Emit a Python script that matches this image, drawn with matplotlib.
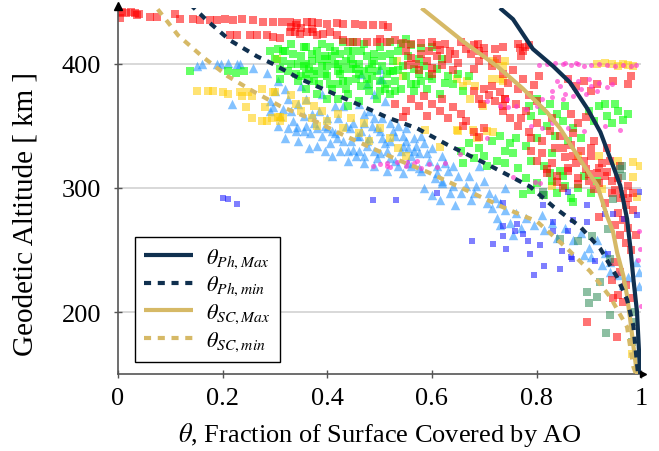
import numpy as np
import matplotlib
matplotlib.use("Agg")
import matplotlib.pyplot as plt
from matplotlib.ticker import FuncFormatter

plt.rcParams["font.family"] = ["Liberation Serif", "DejaVu Serif"]
plt.rcParams["mathtext.fontset"] = "stix"

# ---- model curves (theta vs altitude) ----
ph_max_x = [0.730, 0.755, 0.793, 0.832, 0.864, 0.897, 0.922, 0.946, 0.960, 0.973, 0.979, 0.985, 0.992, 0.998]
ph_max_y = [445, 436, 412, 398, 385, 364, 345, 318, 302, 275, 253, 227, 200, 150]

ph_min_x = [0.138, 0.170, 0.214, 0.266, 0.296, 0.348, 0.380, 0.488, 0.514, 0.572, 0.629, 0.711,
            0.788, 0.832, 0.883, 0.922, 0.954, 0.973, 0.985, 0.994]
ph_min_y = [448, 435, 419, 406, 400, 388, 382, 362, 357, 348, 335, 318, 301, 285, 269, 251, 228, 210, 189, 150]

sc_max_x = [0.580, 0.660, 0.725, 0.774, 0.820, 0.845, 0.883, 0.916, 0.935, 0.946, 0.954, 0.966,
            0.973, 0.979, 0.985, 0.992]
sc_max_y = [445, 418, 398, 380, 361, 348, 323, 302, 277, 265, 248, 229, 213, 194, 173, 150]

sc_min_x = [0.076, 0.115, 0.161, 0.210, 0.258, 0.310, 0.367, 0.424, 0.476, 0.533, 0.591, 0.667,
            0.744, 0.801, 0.859, 0.902, 0.941, 0.973, 0.985, 0.990]
sc_min_y = [444, 423, 406, 390, 378, 366, 356, 344, 334, 323, 313, 298, 283, 273, 251, 233, 212, 188, 156, 150]

# ---- measured coverage, grouped by data set ----
red_pts = [
    (0.000, 441), (0.008, 442), (0.016, 441), (0.024, 442), (0.032, 441), (0.040, 440), (0.004, 437), (0.036, 439),
    (0.061, 438), (0.075, 438), (0.109, 440), (0.119, 436), (0.143, 436), (0.157, 435), (0.176, 435), (0.189, 435),
    (0.205, 436), (0.220, 435), (0.237, 436), (0.258, 435), (0.277, 434), (0.296, 434), (0.314, 434), (0.329, 434),
    (0.342, 433), (0.361, 434), (0.371, 434), (0.382, 433), (0.400, 432), (0.419, 433), (0.430, 432), (0.453, 432),
    (0.468, 431), (0.488, 431), (0.507, 431), (0.516, 430),
    (0.214, 423), (0.228, 423), (0.252, 423), (0.266, 423), (0.285, 423), (0.296, 422), (0.310, 421), (0.329, 426),
    (0.338, 426), (0.348, 424), (0.361, 426), (0.373, 426), (0.380, 423), (0.392, 424), (0.405, 426), (0.419, 423),
    (0.430, 419), (0.444, 418), (0.457, 418), (0.476, 418), (0.495, 418), (0.514, 418), (0.330, 430), (0.350, 429),
    (0.370, 428), (0.340, 431),
    (0.500, 420), (0.530, 419), (0.545, 417), (0.560, 416), (0.580, 417), (0.600, 418), (0.610, 415), (0.625, 416),
    (0.655, 418), (0.665, 412), (0.680, 415), (0.688, 416), (0.690, 410), (0.700, 413), (0.720, 412), (0.735, 414),
    (0.765, 416), (0.769, 413), (0.778, 414), (0.775, 410), (0.785, 415), (0.770, 406),
    (0.550, 410), (0.560, 405), (0.570, 400), (0.580, 408), (0.590, 402), (0.600, 397), (0.610, 406), (0.620, 399),
    (0.630, 404), (0.640, 395), (0.650, 401), (0.575, 395), (0.595, 410), (0.615, 411), (0.555, 399), (0.635, 410),
    (0.600, 392), (0.645, 408),
    (0.675, 408), (0.690, 402), (0.700, 407), (0.715, 398), (0.725, 404), (0.680, 396),
    (0.680, 378), (0.690, 372), (0.700, 380), (0.710, 375), (0.720, 370), (0.730, 377), (0.740, 372), (0.695, 368),
    (0.715, 382), (0.735, 366),
    (0.530, 368), (0.550, 362), (0.560, 372), (0.575, 366), (0.590, 358), (0.600, 368), (0.615, 362), (0.630, 356),
    (0.640, 365), (0.655, 360), (0.665, 354), (0.545, 357), (0.620, 372), (0.585, 374),
    (0.660, 350), (0.680, 345), (0.700, 348), (0.690, 341),
    (0.735, 392), (0.745, 385), (0.755, 395), (0.765, 380), (0.775, 388), (0.785, 375), (0.795, 383), (0.800, 370),
    (0.740, 372), (0.760, 368), (0.780, 362), (0.805, 390),
    (0.860, 388), (0.875, 382), (0.890, 386), (0.905, 378), (0.915, 384), (0.980, 390), (0.975, 384), (0.947, 386),
    (0.735, 362), (0.750, 356), (0.765, 350), (0.865, 360), (0.880, 352), (0.895, 357),
    (0.785, 345), (0.800, 352), (0.810, 338), (0.825, 346), (0.835, 332), (0.845, 342), (0.855, 325), (0.865, 335),
    (0.875, 320), (0.885, 330), (0.895, 315), (0.905, 326), (0.915, 312), (0.925, 320), (0.800, 322), (0.820, 315),
    (0.840, 310), (0.860, 316), (0.880, 308), (0.900, 306), (0.790, 330), (0.830, 356), (0.870, 344), (0.910, 338),
    (0.935, 332), (0.930, 310),
    (0.820, 312), (0.840, 305), (0.860, 314), (0.880, 303), (0.900, 311), (0.920, 304), (0.935, 313), (0.945, 306),
    (0.850, 300), (0.910, 299),
    (0.950, 298), (0.960, 292), (0.970, 286), (0.955, 280), (0.965, 274), (0.975, 268), (0.960, 262), (0.970, 256),
    (0.980, 250), (0.965, 295), (0.985, 282), (0.950, 270), (0.975, 292), (0.990, 262), (0.920, 277),
    (0.950, 240), (0.960, 232), (0.945, 226), (0.970, 222), (0.955, 214), (0.965, 208), (0.897, 192), (0.954, 180),
    (0.946, 211), (0.985, 211),
    (0.770, 356), (0.790, 340), (0.810, 328), (0.830, 320), (0.850, 332), (0.870, 326), (0.890, 322), (0.905, 332),
    (0.920, 316), (0.940, 322), (0.955, 308), (0.960, 318), (0.945, 296), (0.930, 288), (0.975, 302), (0.985, 296),
]

green_pts = [
    (0.138, 394), (0.210, 394), (0.225, 393), (0.240, 394), (0.315, 410),
    (0.300, 404), (0.310, 396), (0.320, 410), (0.330, 400), (0.340, 392), (0.350, 406), (0.355, 398), (0.360, 414),
    (0.365, 388), (0.370, 402), (0.375, 394), (0.380, 410), (0.385, 384), (0.390, 398), (0.395, 406), (0.400, 390),
    (0.405, 414), (0.410, 380), (0.415, 400), (0.420, 394), (0.425, 408), (0.430, 386), (0.435, 402), (0.440, 376),
    (0.445, 396), (0.450, 410), (0.455, 388), (0.460, 400), (0.465, 382), (0.470, 394), (0.475, 406), (0.480, 378),
    (0.485, 390), (0.490, 402), (0.495, 372), (0.500, 386), (0.505, 398), (0.510, 380), (0.515, 392), (0.520, 376),
    (0.525, 402), (0.530, 386), (0.535, 395), (0.540, 380), (0.330, 416), (0.345, 386), (0.360, 380), (0.380, 376),
    (0.400, 372), (0.420, 372), (0.440, 366), (0.460, 370), (0.390, 416), (0.430, 418), (0.470, 416), (0.500, 414),
    (0.370, 408), (0.410, 406), (0.450, 400), (0.490, 408), (0.290, 410), (0.310, 388), (0.350, 390), (0.430, 396),
    (0.480, 396), (0.520, 408), (0.440, 386), (0.400, 398), (0.360, 400), (0.420, 384),
    (0.305, 412), (0.315, 402), (0.325, 394), (0.335, 408), (0.345, 400), (0.355, 414), (0.365, 396), (0.375, 386),
    (0.385, 404), (0.395, 392), (0.405, 384), (0.415, 410), (0.425, 392), (0.435, 380), (0.445, 404), (0.455, 396),
    (0.465, 410), (0.475, 388), (0.485, 400), (0.495, 394), (0.505, 406), (0.515, 384), (0.525, 394), (0.535, 410),
    (0.545, 398), (0.555, 406), (0.565, 396), (0.575, 404), (0.585, 398), (0.595, 390), (0.610, 396), (0.620, 404),
    (0.630, 390), (0.640, 384), (0.650, 392), (0.660, 378), (0.670, 390), (0.380, 392), (0.420, 400), (0.460, 392),
    (0.500, 378), (0.530, 378), (0.570, 384), (0.360, 392), (0.400, 404), (0.440, 410), (0.480, 384), (0.520, 394),
    (0.550, 390), (0.560, 384), (0.575, 392), (0.590, 380), (0.600, 388), (0.615, 376), (0.625, 385), (0.565, 378),
    (0.580, 386),
    (0.520, 418), (0.540, 416), (0.560, 415), (0.580, 413), (0.600, 414), (0.550, 420), (0.450, 418),
    (0.655, 330), (0.670, 336), (0.680, 324), (0.690, 332), (0.700, 326), (0.715, 338), (0.725, 322), (0.740, 330),
    (0.660, 320), (0.705, 318), (0.750, 336), (0.730, 342),
    (0.785, 366), (0.800, 372), (0.810, 362), (0.825, 368), (0.840, 360), (0.855, 366), (0.790, 358),
    (0.900, 362), (0.910, 354), (0.920, 366), (0.935, 358), (0.945, 352), (0.955, 362), (0.965, 355), (0.975, 360),
    (0.930, 368), (0.950, 368),
    (0.820, 350), (0.835, 342), (0.850, 354), (0.860, 338), (0.870, 348), (0.885, 340),
    (0.740, 320), (0.755, 328), (0.765, 316), (0.780, 334), (0.790, 322), (0.800, 340), (0.815, 318), (0.830, 328),
    (0.845, 314), (0.760, 340),
    (0.780, 308), (0.790, 298), (0.800, 304), (0.815, 294), (0.830, 306), (0.840, 296), (0.855, 302), (0.865, 292),
    (0.880, 300), (0.890, 310), (0.905, 296), (0.915, 306), (0.870, 289), (0.825, 312), (0.850, 310), (0.775, 295),
]

blue_pts = [
    (0.152, 398), (0.160, 400), (0.190, 400), (0.197, 400), (0.210, 401), (0.228, 400), (0.233, 400), (0.258, 397),
    (0.285, 393), (0.306, 386), (0.218, 368),
    (0.325, 372), (0.296, 365), (0.290, 362), (0.342, 349), (0.340, 346), (0.367, 344), (0.380, 348), (0.400, 348),
    (0.419, 340), (0.444, 348), (0.457, 342), (0.449, 331), (0.476, 334),
    (0.290, 370), (0.310, 358), (0.330, 362), (0.335, 354), (0.320, 340), (0.345, 368), (0.355, 358), (0.360, 350),
    (0.370, 360), (0.380, 334), (0.390, 342), (0.395, 330), (0.400, 356), (0.410, 346), (0.420, 356), (0.430, 338),
    (0.440, 330), (0.450, 352), (0.460, 342), (0.470, 326), (0.480, 340), (0.490, 330), (0.500, 346), (0.510, 336),
    (0.520, 324), (0.530, 342), (0.540, 330), (0.550, 338), (0.560, 326), (0.570, 334), (0.300, 378), (0.360, 372),
    (0.430, 366), (0.470, 360), (0.520, 352), (0.550, 348), (0.580, 342), (0.320, 380), (0.350, 382), (0.390, 376),
    (0.415, 366), (0.460, 368), (0.490, 356), (0.440, 322), (0.410, 326),
    (0.465, 392), (0.475, 384), (0.490, 376), (0.500, 388), (0.510, 370), (0.500, 396), (0.505, 388),
    (0.470, 352), (0.480, 362), (0.495, 348), (0.505, 356), (0.520, 338), (0.535, 350), (0.545, 342), (0.555, 332),
    (0.565, 340), (0.575, 328), (0.585, 336), (0.595, 322), (0.600, 332), (0.610, 318), (0.620, 326), (0.630, 314),
    (0.470, 320), (0.490, 318), (0.515, 314), (0.530, 322), (0.545, 312), (0.560, 318), (0.580, 314), (0.605, 308),
    (0.620, 306), (0.500, 328), (0.460, 330),
    (0.305, 350), (0.315, 364), (0.325, 348), (0.345, 338), (0.355, 346), (0.365, 332), (0.375, 352), (0.385, 362),
    (0.395, 350), (0.405, 336), (0.415, 344), (0.425, 330), (0.435, 350), (0.445, 338), (0.455, 326), (0.465, 346),
    (0.475, 338), (0.485, 350), (0.495, 324), (0.505, 340), (0.515, 330), (0.525, 346), (0.535, 318), (0.545, 334),
    (0.555, 320), (0.565, 330), (0.575, 316), (0.590, 328), (0.610, 312), (0.625, 320), (0.640, 302), (0.655, 296),
    (0.670, 310), (0.685, 302), (0.710, 296), (0.730, 288),
    (0.585, 300), (0.600, 294), (0.620, 304), (0.635, 296), (0.650, 310), (0.665, 302), (0.680, 296), (0.700, 306),
    (0.720, 292), (0.740, 300), (0.640, 318), (0.690, 318),
    (0.615, 290), (0.645, 286), (0.675, 290), (0.705, 288),
    (0.715, 284), (0.725, 276), (0.740, 282), (0.750, 272), (0.760, 280), (0.770, 268), (0.780, 276), (0.795, 270),
    (0.810, 278), (0.730, 270), (0.755, 262),
    (0.815, 266), (0.830, 272), (0.840, 260), (0.855, 268), (0.870, 258), (0.885, 264), (0.900, 252), (0.915, 258),
    (0.890, 246), (0.905, 244), (0.930, 248), (0.940, 240),
    (0.925, 238), (0.940, 232), (0.955, 230), (0.965, 222), (0.975, 228), (0.990, 240), (0.995, 232), (0.995, 221),
]

yellow_pts = [
    (0.151, 378), (0.172, 378), (0.182, 378), (0.200, 377), (0.210, 376), (0.233, 377), (0.237, 374), (0.249, 377),
    (0.256, 374), (0.245, 365), (0.256, 356), (0.275, 354), (0.285, 354), (0.294, 356), (0.306, 357), (0.310, 354),
    (0.315, 356), (0.300, 377), (0.281, 365), (0.275, 380), (0.296, 377), (0.304, 404),
    (0.330, 375), (0.340, 368), (0.350, 362), (0.360, 370), (0.370, 356), (0.375, 366), (0.380, 350),
    (0.390, 362), (0.400, 354), (0.420, 360), (0.430, 348), (0.445, 356), (0.460, 344), (0.470, 352), (0.480, 338),
    (0.500, 348), (0.520, 340), (0.535, 332), (0.550, 326),
    (0.533, 402), (0.545, 390), (0.648, 388), (0.660, 382), (0.683, 382), (0.715, 388), (0.736, 386), (0.679, 347),
    (0.686, 340), (0.705, 346), (0.648, 347), (0.587, 347), (0.616, 333), (0.717, 402), (0.730, 388), (0.667, 386),
    (0.650, 346), (0.717, 345), (0.673, 372), (0.698, 366),
    (0.915, 400), (0.930, 401), (0.945, 400), (0.955, 398), (0.965, 400), (0.975, 399), (0.985, 398), (0.720, 401),
    (0.740, 402), (0.735, 398),
    (0.985, 309), (0.992, 293), (0.985, 321), (0.998, 318), (0.956, 322), (0.983, 166), (0.925, 299), (0.830, 302),
    (0.880, 326), (0.920, 326), (0.310, 357),
]

pink_pts = [
    (0.805, 399), (0.820, 400), (0.835, 401), (0.850, 400), (0.865, 399), (0.875, 401), (0.880, 400), (0.890, 398),
    (0.905, 399), (0.920, 400), (0.935, 399), (0.950, 398), (0.965, 399), (0.980, 398), (0.990, 399), (0.855, 401),
    (0.830, 378), (0.845, 382), (0.855, 376), (0.865, 384), (0.875, 378), (0.885, 380), (0.895, 376), (0.905, 382),
    (0.915, 378), (0.935, 381), (0.945, 384), (0.840, 386), (0.860, 388), (0.880, 386), (0.900, 388), (0.920, 385),
    (0.830, 373), (0.850, 372), (0.870, 374), (0.810, 372),
    (0.790, 350), (0.810, 348), (0.830, 352), (0.860, 348), (0.890, 346), (0.930, 350), (0.960, 347),
    (0.730, 366), (0.745, 365), (0.760, 366), (0.780, 364), (0.800, 366), (0.705, 370), (0.744, 372),
    (0.488, 318), (0.500, 319), (0.514, 318), (0.514, 320), (0.533, 321), (0.553, 321), (0.572, 322),
    (0.520, 317), (0.550, 318), (0.565, 320), (0.580, 316), (0.595, 319), (0.610, 317), (0.625, 320),
    (0.705, 340), (0.654, 327), (0.797, 305), (0.807, 304), (0.755, 309),
    (0.995, 265), (0.997, 251), (0.993, 242), (1.000, 205),
]

purple_pts = [
    (0.200, 292), (0.210, 291), (0.227, 287), (0.488, 290), (0.532, 290), (0.610, 296),
    (0.677, 257), (0.717, 255), (0.742, 251), (0.736, 261), (0.759, 265), (0.774, 263), (0.784, 257), (0.788, 247),
    (0.807, 254), (0.795, 230), (0.815, 237), (0.845, 235), (0.849, 249), (0.860, 265), (0.868, 243), (0.897, 273),
    (0.912, 241), (0.813, 286), (0.832, 273), (0.832, 265), (0.736, 288), (0.736, 269), (0.763, 271), (0.866, 244),
    (0.870, 274), (0.897, 286), (0.931, 279), (0.937, 247), (0.967, 275), (0.992, 278), (0.998, 297), (0.947, 279),
    (0.860, 297),
]

dkgreen_pts = [
    (0.813, 294), (0.845, 259), (0.880, 257), (0.906, 261), (0.937, 267), (0.941, 243), (0.922, 224), (0.897, 216),
    (0.916, 212), (0.900, 207), (0.941, 198), (0.983, 200), (0.933, 183), (0.983, 176), (0.985, 192), (0.963, 318),
    (0.963, 310), (0.946, 291), (0.813, 297), (0.960, 315),
]

x_ticks = [0, 0.2, 0.4, 0.6, 0.8, 1.0]
y_ticks = [200, 300, 400]

navy = "#10304f"
tan = "#d6b966"

fig = plt.figure(figsize=(6.59, 4.52), dpi=100)
ax = fig.add_axes([0.179, 0.170, 0.794, 0.810])

def xy(pts):
    a = np.array(pts, dtype=float)
    return a[:, 0], a[:, 1]

scatter_specs = [
    (blue_pts, "#1e90ff", "^", 46, 0.55),
    (yellow_pts, "#ffcc00", "s", 30, 0.55),
    (green_pts, "#00ff00", "s", 30, 0.6),
    (red_pts, "#ff0000", "s", 30, 0.55),
    (pink_pts, "#ff33cc", "o", 13, 0.65),
    (purple_pts, "#0000ff", "s", 22, 0.5),
    (dkgreen_pts, "#2e8b57", "s", 26, 0.55),
]
for pts, col, mk, sz, al in scatter_specs:
    px, py = xy(pts)
    ax.scatter(px, py, s=sz, marker=mk, color=col, alpha=al, linewidths=0, zorder=2)

lw = 3.0
ax.plot(ph_max_x, ph_max_y, color=navy, lw=lw, solid_capstyle="butt", zorder=4,
        label=r"$\theta_{Ph,Max}$")
ax.plot(ph_min_x, ph_min_y, color=navy, lw=lw, dashes=(1.7, 1.6), zorder=4,
        label=r"$\theta_{Ph,min}$")
ax.plot(sc_max_x, sc_max_y, color=tan, lw=lw, solid_capstyle="butt", zorder=3,
        label=r"$\theta_{SC,Max}$")
ax.plot(sc_min_x, sc_min_y, color=tan, lw=lw, dashes=(1.7, 1.6), zorder=3,
        label=r"$\theta_{SC,min}$")

ax.set_xlim(0, 1)
ax.set_ylim(150, 445)
ax.set_xticks(x_ticks)
ax.set_yticks(y_ticks)
ax.xaxis.set_major_formatter(FuncFormatter(lambda v, p: f"{v:g}"))
ax.yaxis.set_major_formatter(FuncFormatter(lambda v, p: f"{v:g}"))
ax.grid(axis="y", color="#d6d6d6", lw=1.3, zorder=0)
ax.set_axisbelow(True)

for side in ("top", "right"):
    ax.spines[side].set_visible(False)
for side in ("left", "bottom"):
    ax.spines[side].set_color("#555555")
    ax.spines[side].set_linewidth(1.2)
ax.tick_params(direction="inout", length=6, width=1, color="#555555",
               labelsize=19, labelcolor="black")
ax.tick_params(axis="x", pad=6)
ax.tick_params(axis="y", pad=9)

# axis arrow heads
ax.plot([0], [1.006], marker="^", color="black", ms=5.5, transform=ax.transAxes,
        clip_on=False, zorder=6)
ax.plot([1.004], [0], marker=">", color="black", ms=4.5, transform=ax.transAxes,
        clip_on=False, zorder=6)

ax.set_xlabel(r"$\theta$, Fraction of Surface Covered by AO", fontsize=19)
ax.set_ylabel("Geodetic Altitude [ km ]", fontsize=21)
ax.xaxis.set_label_coords(0.5, -0.125)
ax.yaxis.set_label_coords(-0.152, 0.44)

leg = ax.legend(loc="lower left", bbox_to_anchor=(0.0325, 0.033), borderaxespad=0,
                fontsize=16, frameon=True, fancybox=False, handlelength=2.2,
                labelspacing=0.2, borderpad=0.4, handletextpad=0.6)
leg.get_frame().set_edgecolor("black")
leg.get_frame().set_linewidth(1.0)
leg.get_frame().set_alpha(1)

fig.savefig("out.png", dpi=100)
